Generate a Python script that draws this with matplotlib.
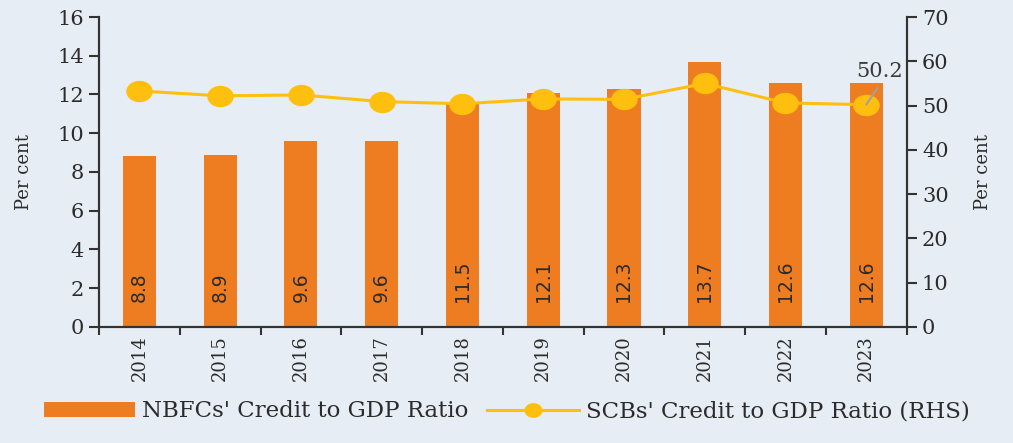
import numpy as np
import matplotlib
matplotlib.use('Agg')
import matplotlib.pyplot as plt
from matplotlib.path import Path
from matplotlib.lines import Line2D
from matplotlib.patches import Patch

years = ['2014', '2015', '2016', '2017', '2018', '2019', '2020', '2021', '2022', '2023']
nbfc_ratio = [8.8, 8.9, 9.6, 9.6, 11.5, 12.1, 12.3, 13.7, 12.6, 12.6]
scb_ratio = [53.3, 52.2, 52.4, 50.9, 50.4, 51.5, 51.4, 55.0, 50.6, 50.2]
nbfc_label = "NBFCs' Credit to GDP Ratio"
scb_label = "SCBs' Credit to GDP Ratio (RHS)"

bg = '#e7edf4'
bar_col = '#ee7d22'
line_col = '#ffbf0f'
txt_col = '#2b2b2b'

plt.rcParams['font.family'] = ['DejaVu Serif']

# stretched circle marker, the original is a bit wider than tall
t = np.linspace(0, 2 * np.pi, 60)
ellipse = Path(np.column_stack([1.25 * np.cos(t), np.sin(t)]))

fig = plt.figure(figsize=(10.13, 4.43), dpi=100, facecolor=bg)
ax = fig.add_axes([0.0977, 0.262, 0.7973, 0.6996])
ax.set_facecolor(bg)
ax2 = ax.twinx()

x = np.arange(len(years))
ax.bar(x, nbfc_ratio, width=0.41, color=bar_col, zorder=2)
for xi, v in zip(x, nbfc_ratio):
    ax.text(xi, 1.3, f'{v:.1f}', rotation=90, ha='center', va='bottom',
            fontsize=13.5, color=txt_col, family=['Liberation Sans Narrow', 'DejaVu Sans'])

ax2.plot(x, scb_ratio, color=line_col, lw=2.2, marker=ellipse, markersize=18, zorder=3)

# label on the last point, with a small grey leader
ax2.annotate('', xy=(x[-1], scb_ratio[-1]), xytext=(8, 12), textcoords='offset points',
             arrowprops=dict(arrowstyle='-', color='#a0a0a0', lw=1.5, shrinkA=0, shrinkB=0))
ax2.annotate(f'{scb_ratio[-1]:.1f}', xy=(x[-1], scb_ratio[-1]), xytext=(9.5, 17),
             textcoords='offset points', ha='center', va='bottom', fontsize=15, color='#3a3a3a')

ax.set_xlim(-0.5, len(years) - 0.5)
ax.set_ylim(0, 16)
ax2.set_ylim(0, 70)
ax.set_yticks(range(0, 17, 2))
ax2.set_yticks(range(0, 71, 10))

ax.set_xticks(np.arange(-0.5, len(years), 1))
ax.set_xticklabels([])
ax.set_xticks(x, minor=True)
ax.set_xticklabels(years, minor=True, rotation=90)
ax.tick_params(axis='x', which='minor', length=0, pad=6, labelsize=13, labelcolor=txt_col)
ax.tick_params(axis='x', which='major', length=6, width=1.5, color='#333333')
ax.tick_params(axis='y', length=7, width=1.5, color='#333333', labelsize=15, labelcolor=txt_col, pad=4)
ax2.tick_params(axis='y', length=7, width=1.5, color='#333333', labelsize=15, labelcolor=txt_col, pad=4)

for a in (ax, ax2):
    a.spines['top'].set_visible(False)
    for s in ('left', 'right', 'bottom'):
        a.spines[s].set_linewidth(1.5)
        a.spines[s].set_color('#333333')

ax.set_ylabel('Per cent', fontsize=13, color=txt_col)
ax2.set_ylabel('Per cent', fontsize=13, color=txt_col)
ax.yaxis.set_label_coords(-0.082, 0.5)
ax2.yaxis.set_label_coords(1.084, 0.5)

handles = [Patch(facecolor=bar_col, label=nbfc_label),
           Line2D([0], [0], color=line_col, lw=2.2, marker=ellipse, markersize=12, label=scb_label)]
fig.legend(handles=handles, loc='lower center', bbox_to_anchor=(0.5, 0.0), ncol=2, frameon=False,
           fontsize=16.5, handlelength=4.0, handleheight=0.65, handletextpad=0.3,
           columnspacing=0.8, labelcolor=txt_col)

fig.savefig('out.png', dpi=100, facecolor=bg)
